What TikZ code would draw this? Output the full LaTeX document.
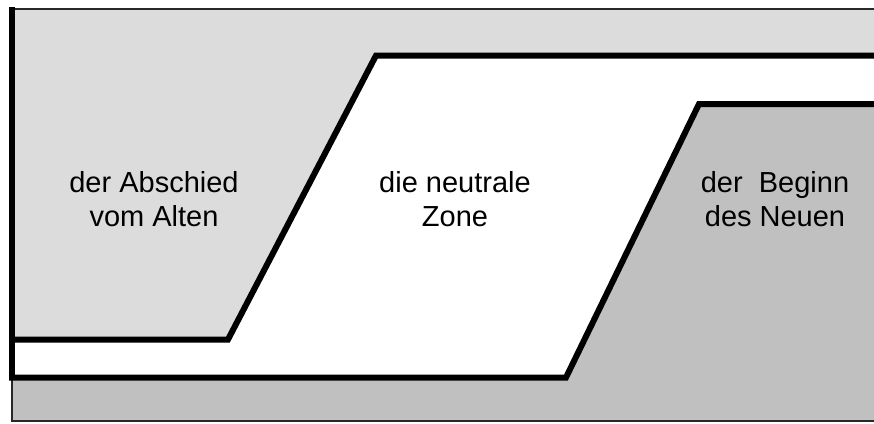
\documentclass[tikz,border=0pt]{standalone}
\usepackage{fontspec}
\setmainfont{Liberation Sans}
\definecolor{lightgr}{RGB}{220,220,220}
\definecolor{midgr}{RGB}{192,192,192}
\definecolor{framegr}{RGB}{40,40,40}
\begin{document}
\begin{tikzpicture}[x=1pt,y=-1pt,
  thickline/.style={line width=6pt,black,line cap=rect,line join=miter},
  thinline/.style={line width=2.5pt,framegr},
  label/.style={align=center,inner sep=0pt,font=\fontsize{29}{34}\selectfont}]
\useasboundingbox (0,0) rectangle (874,423);
% coordinates
\coordinate (tl) at (12,9);
\coordinate (tr) at (874,9);
\coordinate (a0) at (12,339.5);
\coordinate (a1) at (228,339.5);
\coordinate (a2) at (376,55.5);
\coordinate (a3) at (874,55.5);
\coordinate (b0) at (12,377.5);
\coordinate (b1) at (566,377.5);
\coordinate (b2) at (699,104);
\coordinate (b3) at (874,104);
\coordinate (br) at (874,421);
\coordinate (bl) at (12,421);
% fills
\fill[white] (tl) rectangle (br);
\fill[lightgr] (tl) -- (tr) -- (a3) -- (a2) -- (a1) -- (a0) -- cycle;
\fill[midgr] (b0) -- (b1) -- (b2) -- (b3) -- (br) -- (bl) -- cycle;
% frame
\draw[thinline] (tl) -- (tr);
\draw[thinline] (b0) -- (bl) -- (br);
% thick lines
\draw[thickline] (a0) -- (a1) -- (a2) -- (a3);
\draw[thickline] (b0) -- (b1) -- (b2) -- (b3);
\draw[thickline] ([yshift=-1pt]tl) -- ([yshift=2pt]b0);
% labels
\node[label] (alt) at (154,199.5) {der Abschied\\vom Alten};
\node[label] (neutral) at (455,199.5) {die neutrale\\Zone};
\node[label] (neu) at (775,199.5) {der\ \ Beginn\\des Neuen};
\end{tikzpicture}
\end{document}
